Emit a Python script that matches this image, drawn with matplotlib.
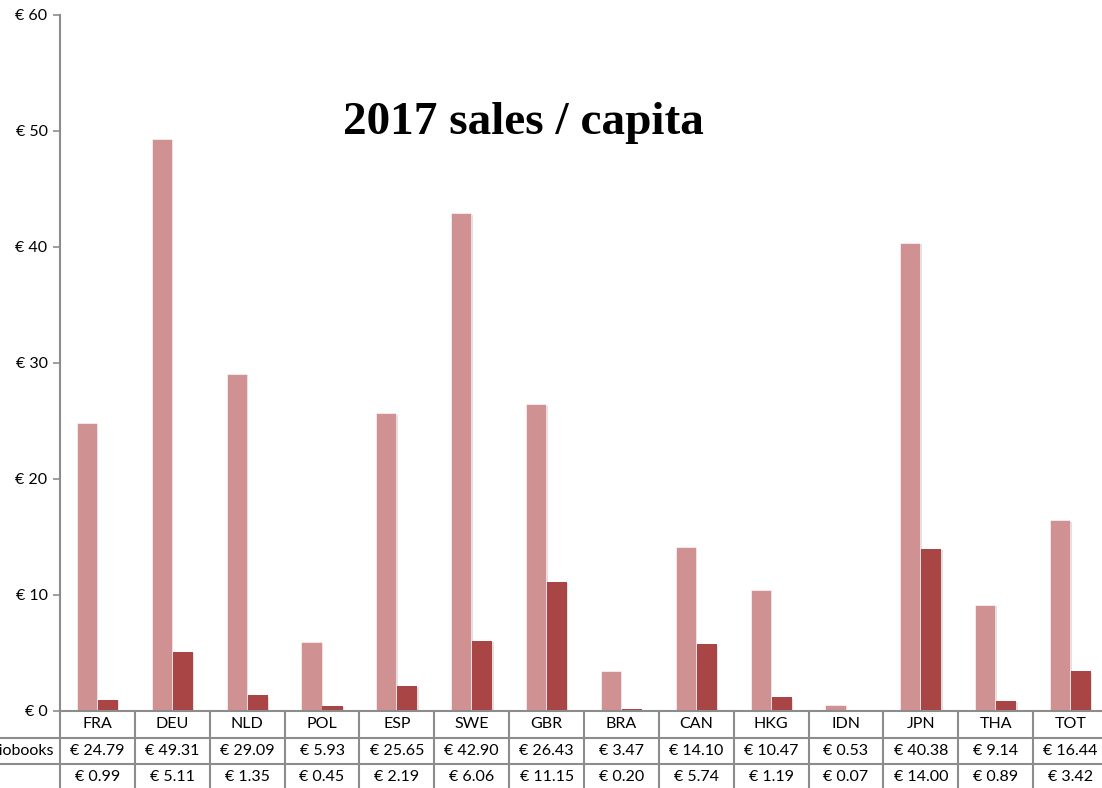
import matplotlib
matplotlib.use("Agg")
import matplotlib.pyplot as plt
import matplotlib.patheffects as pe
from matplotlib.transforms import blended_transform_factory

countries = ["FRA", "DEU", "NLD", "POL", "ESP", "SWE", "GBR", "BRA",
             "CAN", "HKG", "IDN", "JPN", "THA", "TOT"]
audiobooks = [24.79, 49.31, 29.09, 5.93, 25.65, 42.90, 26.43, 3.47,
              14.10, 10.47, 0.53, 40.38, 9.14, 16.44]
second_series = [0.99, 5.11, 1.35, 0.45, 2.19, 6.06, 11.15, 0.20,
                 5.74, 1.19, 0.07, 14.00, 0.89, 3.42]
row_labels = ["Audiobooks", ""]
y_ticks = [0, 10, 20, 30, 40, 50, 60]
title = "2017 sales / capita"

light = "#D09192"
dark = "#A94545"
grid_gray = "#8C8C8C"
font = "Lato"
fs = 11.5

W, H = 1102, 788
fig = plt.figure(figsize=(W / 100, H / 100), dpi=100)
fig.patch.set_facecolor("white")

ax_left, ax_right, ax_top, ax_bottom = 60, 1108, 15, 711
ax = fig.add_axes([ax_left / W, (H - ax_bottom) / H,
                   (ax_right - ax_left) / W, (ax_bottom - ax_top) / H])

n = len(countries)
x = list(range(n))
bw = 0.268
shadow = [pe.SimplePatchShadow(offset=(1, -1), shadow_rgbFace="#BBBBBB", alpha=0.45), pe.Normal()]
b1 = ax.bar([i - bw / 2 - 0.006 for i in x], audiobooks, width=bw, color=light,
            edgecolor="white", linewidth=0.4, zorder=3)
b2 = ax.bar([i + bw / 2 + 0.006 for i in x], second_series, width=bw, color=dark,
            edgecolor="none", linewidth=0, zorder=3)
for r in list(b1) + list(b2):
    r.set_path_effects(shadow)

ax.set_xlim(-0.5, n - 0.5)
ax.set_ylim(0, 60)
ax.set_yticks(y_ticks)
ax.set_yticklabels([f"€ {v}" for v in y_ticks], fontfamily=font, fontsize=fs)
ax.tick_params(axis="y", direction="out", length=5, width=1.2, color=grid_gray, pad=4)
ax.set_xticks([])
for s in ["top", "right", "bottom"]:
    ax.spines[s].set_visible(False)
ax.spines["left"].set_color(grid_gray)
ax.spines["left"].set_linewidth(1.5)

ax.text(0.442, 0.845, title, transform=ax.transAxes, ha="center", va="center",
        fontfamily="Liberation Serif", fontweight="bold", fontsize=34)

# data table below the axes, laid out in pixel rows
row_h = 26.5
trans_x = blended_transform_factory(ax.transData, fig.transFigure)


def fy(py):
    return (H - py) / H


lw = 1.5
rows_top = [ax_bottom, ax_bottom + row_h, ax_bottom + 2 * row_h]
bottom_px = ax_bottom + 3 * row_h + 5

# horizontal rules
fig.add_artist(plt.Line2D([ax_left / W, 1], [fy(rows_top[0])] * 2, color=grid_gray, lw=lw))
for ry in rows_top[1:]:
    fig.add_artist(plt.Line2D([0, 1], [fy(ry)] * 2, color=grid_gray, lw=lw))
# column separators
for i in range(n + 1):
    xv = i - 0.5
    ax.add_line(plt.Line2D([xv, xv], [fy(rows_top[0]), fy(bottom_px)], transform=trans_x,
                           color=grid_gray, lw=lw, clip_on=False))


def euro(v):
    return f"€ {v:.2f}"


for i, c in enumerate(countries):
    ax.text(i, fy(rows_top[0] + row_h / 2), c, transform=trans_x, ha="center", va="center",
            fontfamily=font, fontsize=fs, clip_on=False)
    ax.text(i, fy(rows_top[1] + row_h / 2), euro(audiobooks[i]), transform=trans_x,
            ha="center", va="center", fontfamily=font, fontsize=fs, clip_on=False)
    ax.text(i, fy(rows_top[2] + row_h / 2), euro(second_series[i]), transform=trans_x,
            ha="center", va="center", fontfamily=font, fontsize=fs, clip_on=False)

for k, lab in enumerate(row_labels):
    if lab:
        fig.text(54 / W, fy(rows_top[k + 1] + row_h / 2), lab, ha="right", va="center",
                 fontfamily=font, fontsize=fs)

fig.savefig("out.png", dpi=100, facecolor="white")
